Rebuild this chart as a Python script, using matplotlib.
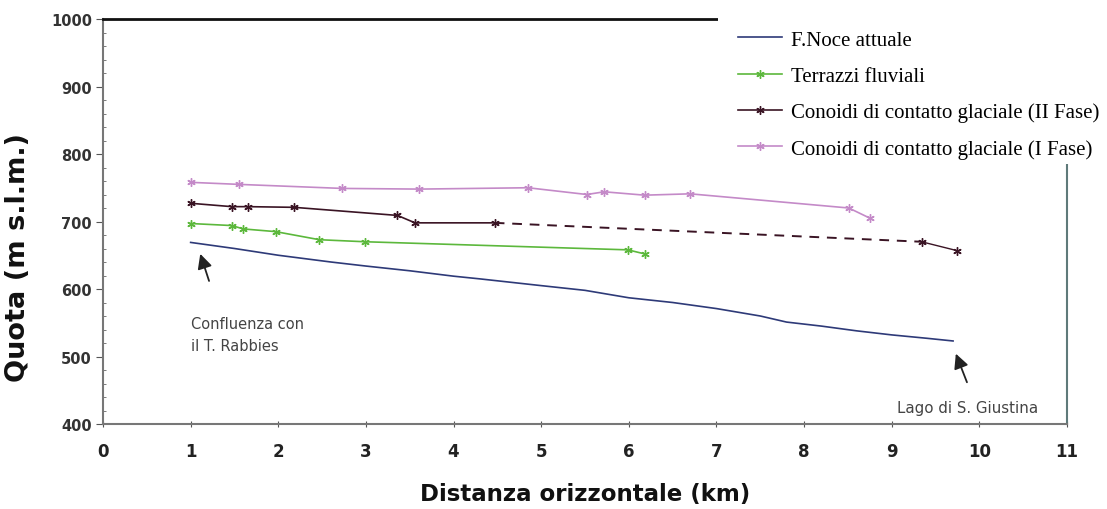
import matplotlib
matplotlib.use("Agg")
import matplotlib.pyplot as plt
from matplotlib.patches import Rectangle
from matplotlib.lines import Line2D
from matplotlib.ticker import MultipleLocator

# ---- data ----
noce_x = [1.0, 1.5, 2.0, 2.6, 3.0, 3.5, 4.0, 4.3, 5.0, 5.5, 6.0, 6.5, 7.0, 7.5, 7.8, 8.2, 8.6, 9.0, 9.4, 9.7]
noce_y = [669, 660, 650, 640, 634, 627, 619, 615, 605, 598, 587, 580, 571, 560, 551, 545, 538, 532, 527, 523]

terr_x = [1.0, 1.47, 1.6, 1.97, 2.47, 2.99, 5.99, 6.18]
terr_y = [697, 694, 689, 685, 673, 670, 658, 652]

fase2_x = [1.0, 1.47, 1.65, 2.18, 3.36, 3.56, 4.47]
fase2_y = [727, 722, 722, 721, 709, 698, 698]
fase2_gap_x = [4.47, 9.34]
fase2_gap_y = [698, 670]
fase2_end_x = [9.34, 9.74]
fase2_end_y = [670, 657]

fase1_x = [1.0, 1.55, 2.73, 3.61, 4.85, 5.52, 5.72, 6.18, 6.70, 8.51, 8.75]
fase1_y = [758, 755, 749, 748, 750, 740, 744, 739, 741, 720, 705]

labels = ["F.Noce attuale", "Terrazzi fluviali",
          "Conoidi di contatto glaciale (II Fase)",
          "Conoidi di contatto glaciale (I Fase)"]
xticks = list(range(0, 12))
yticks = list(range(400, 1001, 100))

# ---- style ----
c_noce = "#2e3a78"
c_terr = "#5cb83c"
c_f2 = "#3a1424"
c_f1 = "#c48ac8"
star = (6, 2, 0)

fig = plt.figure(figsize=(11.07, 5.10), dpi=100)
ax = fig.add_axes([103/1107, 1-425/510, (1067-103)/1107, (425-20)/510])

ax.plot(noce_x, noce_y, color=c_noce, lw=1.2)
ax.plot(terr_x, terr_y, color=c_terr, lw=1.2, marker=star, ms=6, mec=c_terr)
ax.plot(fase2_x, fase2_y, color=c_f2, lw=1.2, marker=star, ms=6, mec=c_f2)
ax.plot(fase2_gap_x, fase2_gap_y, color=c_f2, lw=1.4, ls=(0, (5, 4)))
ax.plot(fase2_end_x, fase2_end_y, color=c_f2, lw=1.0, marker=star, ms=6, mec=c_f2)
ax.plot(fase1_x, fase1_y, color=c_f1, lw=1.2, marker=star, ms=6, mec=c_f1)

ax.set_xlim(0, 11)
ax.set_ylim(400, 1000)
ax.set_xticks(xticks)
ax.set_yticks(yticks)
ax.yaxis.set_minor_locator(MultipleLocator(20))
ax.tick_params(axis="y", which="minor", length=2, direction="in", color="#666")
ax.tick_params(axis="y", which="major", length=5, direction="out", color="#555", pad=3)
ax.tick_params(axis="x", which="major", length=4, direction="inout", color="#555", pad=11)

for lab in ax.get_yticklabels():
    lab.set_fontfamily("DejaVu Sans")
    lab.set_fontweight("bold")
    lab.set_fontsize(10.5)
    lab.set_color("#333333")
for lab in ax.get_xticklabels():
    lab.set_fontfamily("DejaVu Sans")
    lab.set_fontweight("bold")
    lab.set_fontsize(12)
    lab.set_color("#222222")

ax.spines["top"].set_color("#111111")
ax.spines["top"].set_linewidth(2.0)
ax.spines["left"].set_color("#777777")
ax.spines["left"].set_linewidth(1.5)
ax.spines["bottom"].set_color("#777777")
ax.spines["bottom"].set_linewidth(1.5)
ax.spines["right"].set_color("#5f7a7a")
ax.spines["right"].set_linewidth(1.5)

ax.set_xlabel("Distanza orizzontale (km)", fontfamily="DejaVu Sans",
              fontweight="bold", fontsize=16.5, color="#111111", labelpad=16)
ax.set_ylabel("Quota (m s.l.m.)", fontfamily="DejaVu Sans",
              fontweight="bold", fontsize=19.5, color="#111111")
ax.yaxis.set_label_coords((18 - 103) / 964, (425 - 258) / 405)
ax.yaxis.label.set_va("center")

ax.annotate("", xy=(1.1, 656), xytext=(1.22, 608),
            arrowprops=dict(arrowstyle="-|>", color="#222222", lw=1.3,
                            mutation_scale=22))
ax.text(1.0, 560, "Confluenza con\nil T. Rabbies", fontfamily="DejaVu Sans",
        fontsize=10.5, color="#444444", va="top", ha="left", linespacing=1.55)
ax.annotate("", xy=(9.72, 508), xytext=(9.87, 458),
            arrowprops=dict(arrowstyle="-|>", color="#222222", lw=1.3,
                            mutation_scale=22))
ax.text(9.06, 414, "Lago di S. Giustina", fontfamily="DejaVu Sans",
        fontsize=10.8, color="#444444", va="bottom", ha="left")

# white area behind the legend (covers frame)
rect = Rectangle((718/1107, 1-165/510), 1-718/1107, 165/510, transform=fig.transFigure,
                 facecolor="white", edgecolor="none", zorder=2)
fig.patches.append(rect)

handles = [
    Line2D([], [], color=c_noce, lw=1.2),
    Line2D([], [], color=c_terr, lw=1.2, marker=star, ms=6),
    Line2D([], [], color=c_f2, lw=1.2, marker=star, ms=6),
    Line2D([], [], color=c_f1, lw=1.2, marker=star, ms=6),
]
leg = fig.legend(handles, labels, loc="upper left",
                 bbox_to_anchor=(738/1107, 1-31/510), frameon=False,
                 prop=dict(family="Liberation Serif", size=15),
                 handlelength=2.1, handletextpad=0.45, labelspacing=0.8,
                 borderpad=0, borderaxespad=0)
leg.set_zorder(5)

fig.savefig("out.png", dpi=100, facecolor="white")
